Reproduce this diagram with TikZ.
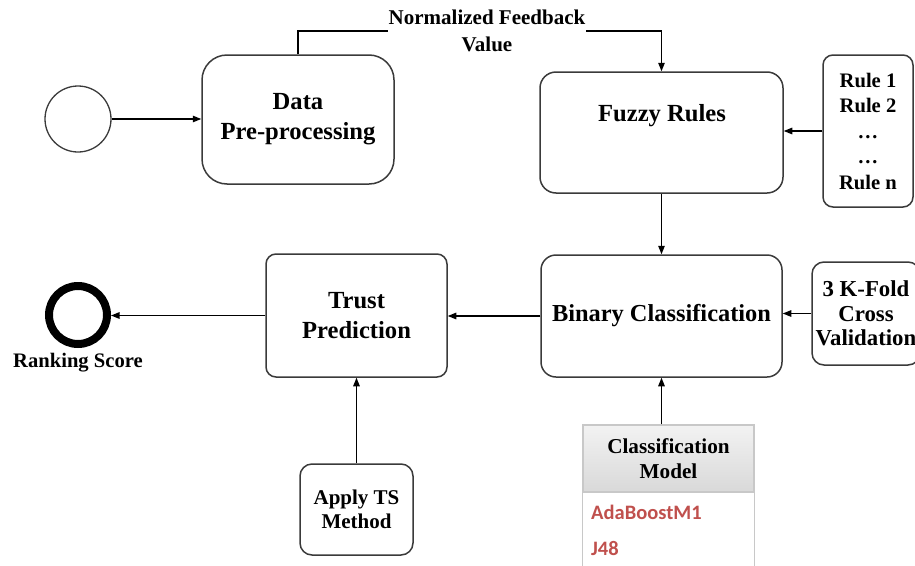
\documentclass[tikz,border=0pt]{standalone}
\usepackage{fontspec}
\setmainfont{Liberation Serif}
\newfontfamily\calfont{Carlito}
\usetikzlibrary{arrows.meta}
\definecolor{boxline}{HTML}{3A3A3A}
\definecolor{tabline}{HTML}{C8C8C8}
\definecolor{modelred}{HTML}{C0504D}
\tikzset{
  block/.style={draw=boxline, line width=1.5pt, rounded corners=#1, fill=white,
    align=center, inner sep=0pt},
  conn/.style={draw=black, line width=1.3pt, -{Triangle[length=8.5pt,width=6.5pt]}},
  plain/.style={draw=black, line width=1.3pt},
  big/.style={font=\bfseries\fontsize{24.6}{30}\selectfont, align=center},
  small/.style={font=\bfseries\fontsize{20.6}{24.5}\selectfont, align=center},
  redtxt/.style={font=\calfont\bfseries\fontsize{20.5}{24}\selectfont, text=modelred, anchor=west, inner sep=0pt},
}
\begin{document}
\begin{tikzpicture}[x=1pt, y=-1pt]
\useasboundingbox (0,0) rectangle (915,565);
\clip (0,0) rectangle (915,565);

% start and end events
\node[circle, draw=boxline, line width=1.3pt, minimum size=66pt, inner sep=0pt] (start) at (78,119) {};
\node[circle, draw=black, line width=8pt, minimum size=58pt, inner sep=0pt] (rank) at (78,315) {};
\node[small, inner sep=0pt] (ranktxt) at (78,363) {Ranking Score};

% process boxes
\node[block=25pt, big, minimum width=192pt, minimum height=129pt] (data) at (298,119.5) {Data\\Pre-processing};
\node[block=16pt, minimum width=243pt, minimum height=121pt] (fuzzy) at (661.5,132.5) {};
\node[big, inner sep=0pt] (fuzzytxt) at (662,116) {Fuzzy Rules};
\node[block=10pt, minimum width=90pt, minimum height=152pt, font=\bfseries\fontsize{20.6}{25.5}\selectfont] (rules) at (868,131)
  {Rule 1\\Rule 2\\…\\…\\Rule n};
\node[block=15pt, minimum width=241pt, minimum height=122pt, font=\bfseries\fontsize{24.4}{28}\selectfont] (binary) at (661.5,316) {Binary Classification};
\node[block=12pt, minimum width=108pt, minimum height=103pt, font=\bfseries\fontsize{22.8}{24.5}\selectfont] (kfold) at (866,313.5)
  {3 K-Fold\\Cross\\Validation};
\node[block=10pt, big, minimum width=181pt, minimum height=123pt] (trust) at (356.5,315.5) {Trust\\Prediction};
\node[block=12pt, minimum width=113pt, minimum height=91pt, font=\bfseries\fontsize{21}{23.5}\selectfont] (apply) at (356.5,509.5) {Apply TS\\Method};

% feedback label
\node[font=\bfseries\fontsize{21}{27}\selectfont, align=center, inner sep=1pt] (fb) at (487,31) {Normalized Feedback\\Value};

% classification model table
\fill[white] (583,492) rectangle (754,580);
\shade[top color=white!95!black, bottom color=white!85!black] (583,425) rectangle (754,492);
\node[draw=tabline, line width=1.2pt, minimum width=171pt, minimum height=67pt, inner sep=0pt,
  align=center, font=\bfseries\fontsize{21.2}{25}\selectfont] (model) at (668.5,458.5) {Classification\\Model};
\draw[tabline, line width=1.2pt] (model.south west) -- ++(0,90);
\draw[tabline, line width=1.2pt] (model.south east) -- ++(0,90);
\node[redtxt] (ada) at (591,512) {AdaBoostM1};
\node[redtxt] (j48) at (591,548) {J48};

% connectors
\draw[conn] (start.east) -- (start.east -| data.west);
\draw[plain] (data.north) |- (fb.west);
\draw[conn] (fb.east) -| (fuzzy.north);
\draw[conn] (rules.west) -- (rules.west -| fuzzy.east);
\draw[conn] (fuzzy.south) -- (binary.north);
\draw[conn] (kfold.west) -- (kfold.west -| binary.east);
\draw[conn] (binary.west) -- (binary.west -| trust.east);
\draw[conn] (trust.west) -- (trust.west -| rank.east);
\draw[conn] (apply.north) -- (trust.south);
\draw[conn] (binary.south |- model.north) -- (binary.south);
\end{tikzpicture}
\end{document}
